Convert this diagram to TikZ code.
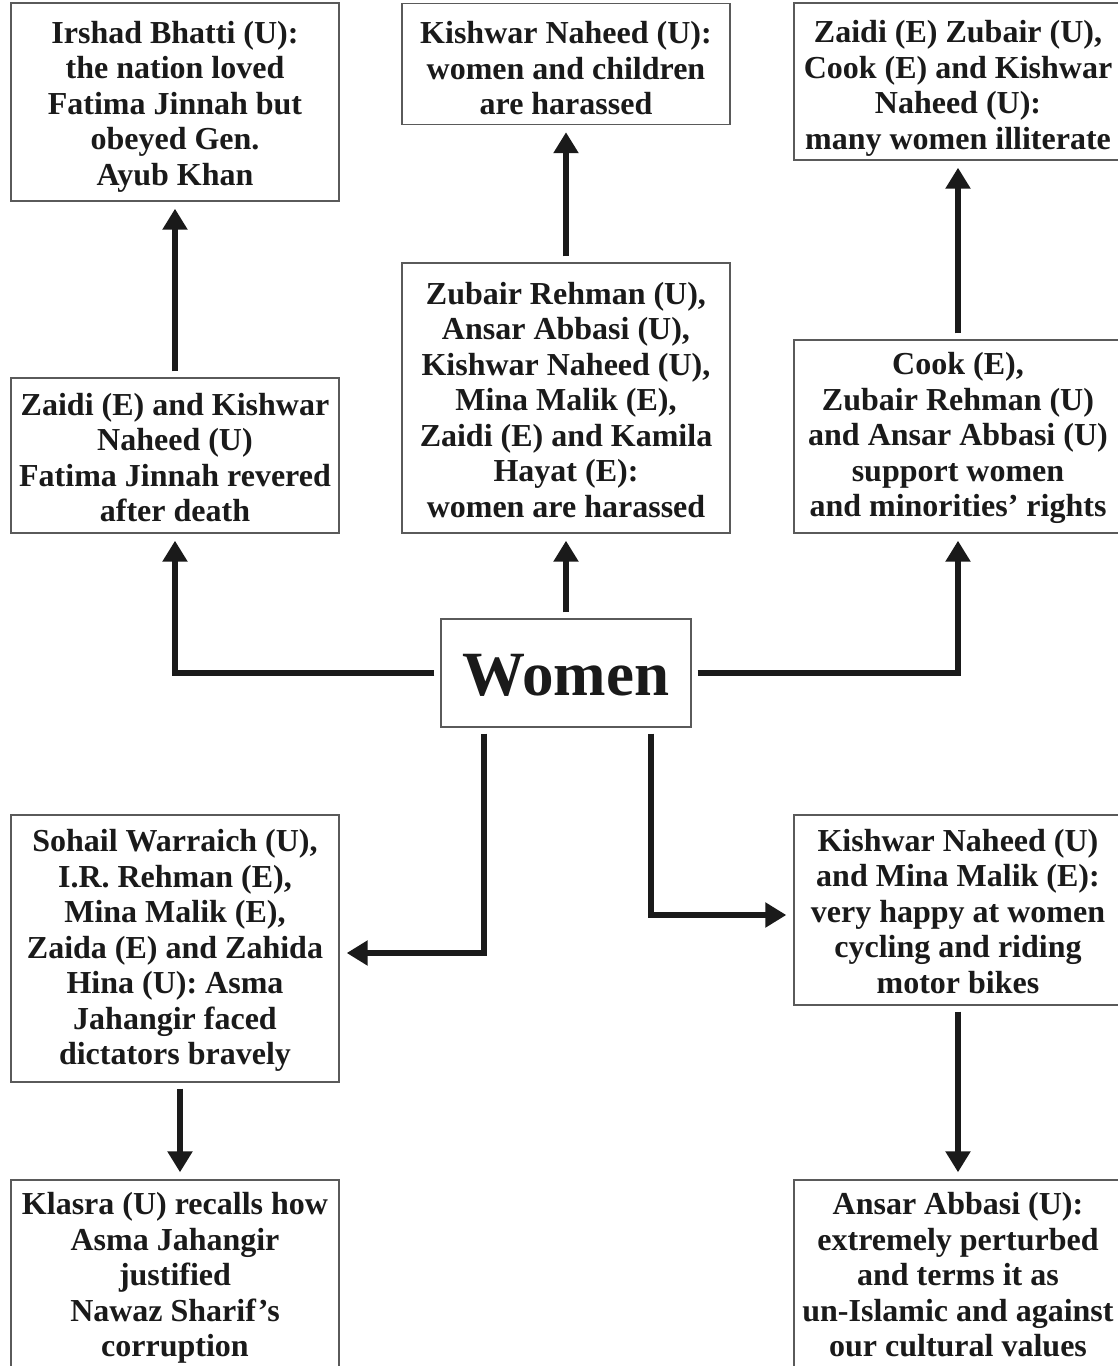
\documentclass[tikz,border=0pt]{standalone}
\usepackage{fontspec}
\setmainfont{Liberation Serif}
\usetikzlibrary{arrows.meta}
\definecolor{ink}{HTML}{1A1A1A}
\definecolor{boxgray}{HTML}{5A5A5A}
\begin{document}
\begin{tikzpicture}[x=1pt,y=-1pt,
  box/.style={draw=boxgray, line width=1.4pt, inner sep=0pt,
    minimum width=328pt},
  txt/.style={align=center, inner sep=0pt, text=ink,
    font=\fontsize{32}{35.5}\selectfont\bfseries},
  hubtxt/.style={inner sep=0pt, text=ink,
    font=\fontsize{63}{70}\selectfont\bfseries},
  arr/.style={draw=ink, line width=6pt,
    -{Triangle[length=21pt,width=24pt]},
    shorten <=6pt, shorten >=7pt}]
\useasboundingbox (0,0) rectangle (1117,1366);
\fill[white] (0,0) rectangle (1117,1366);

% frames
\node[box, minimum height=198pt] (tl) at (175,102) {};
\node[box, minimum height=121pt] (tm) at (566,64) {};
\node[box, minimum height=157pt] (tr) at (958,81.5) {};
\node[box, minimum height=155pt] (ml) at (175,455.5) {};
\node[box, minimum height=270pt] (mm) at (566,398) {};
\node[box, minimum height=193pt] (mr) at (958,436.5) {};
\node[box, minimum width=250pt, minimum height=108pt] (w) at (566,673) {};
\node[box, minimum height=267pt] (bl) at (175,948.5) {};
\node[box, minimum height=190pt] (br) at (958,910) {};
\node[box, minimum height=192pt] (bl2) at (175,1276) {};
\node[box, minimum height=192pt] (br2) at (958,1276) {};

% texts
\node[txt] (tl-t) at (175,106.5)
  {Irshad Bhatti (U):\\the nation loved\\Fatima Jinnah but\\obeyed Gen.\\Ayub Khan};
\node[txt] (tm-t) at (566,68.5)
  {Kishwar Naheed (U):\\women and children\\are harassed};
\node[txt] (tr-t) at (958,88.5)
  {Zaidi (E) Zubair (U),\\Cook (E) and Kishwar\\Naheed (U):\\many women illiterate};
\node[txt] (ml-t) at (175,457.5)
  {Zaidi (E) and Kishwar\\Naheed (U)\\Fatima Jinnah revered\\after death};
\node[txt] (mm-t) at (566,400)
  {Zubair Rehman (U),\\Ansar Abbasi (U),\\Kishwar Naheed (U),\\Mina Malik (E),\\Zaidi (E) and Kamila\\Hayat (E):\\women are harassed};
\node[txt] (mr-t) at (958,438)
  {Cook (E)\textbf{,}\\Zubair Rehman (U)\\and Ansar Abbasi (U)\\support women\\and minorities’ rights};
\node[hubtxt] (w-t) at (566,675) {Women};
\node[txt] (bl-t) at (175,950.5)
  {Sohail Warraich (U),\\I.R. Rehman (E),\\Mina Malik (E),\\Zaida (E) and Zahida\\Hina (U): Asma\\Jahangir faced\\dictators bravely};
\node[txt] (br-t) at (958,911.5)
  {Kishwar Naheed (U)\\and Mina Malik (E):\\very happy at women\\cycling and riding\\motor bikes};
\node[txt] (bl2-t) at (175,1278)
  {Klasra (U) recalls how\\Asma Jahangir\\justified\\Nawaz Sharif’s\\corruption};
\node[txt] (br2-t) at (958,1275)
  {Ansar Abbasi (U):\\extremely perturbed\\and terms it as\\un-Islamic and against\\our cultural values};

% connectors
\draw[arr] (w.west) -| (ml.south);
\draw[arr] (w.north) -- (mm.south);
\draw[arr] (w.east) -| (mr.south);
\draw[arr] (ml.north) -- (tl.south);
\draw[arr] (mm.north) -- (tm.south);
\draw[arr] (mr.north) -- (tr.south);
\draw[arr] ([xshift=-82pt]w.south) |- ([yshift=-4.5pt]bl.east);
\draw[arr] ([xshift=85pt]w.south) |- ([yshift=-5pt]br.west);
\draw[arr] ([xshift=5pt]bl.south) -- ([xshift=5pt]bl2.north);
\draw[arr] (br.south) -- (br2.north);
\end{tikzpicture}
\end{document}
